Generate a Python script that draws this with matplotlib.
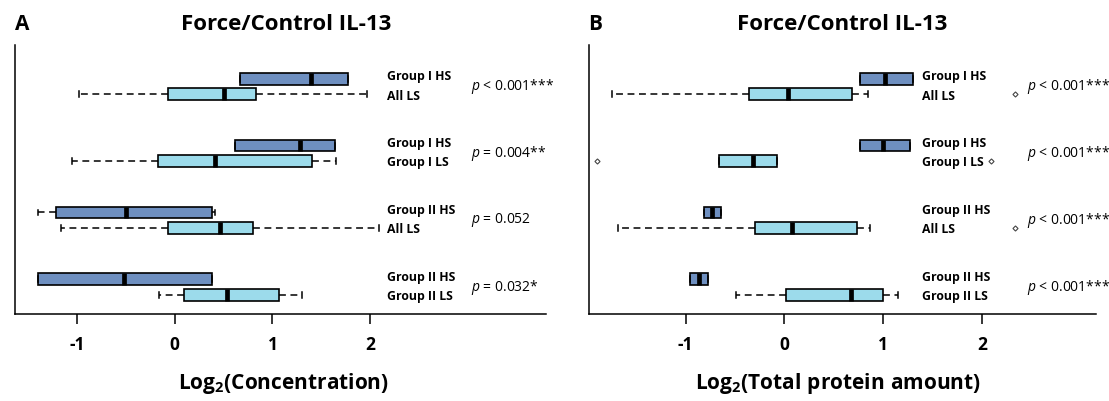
import matplotlib
matplotlib.use("Agg")
import matplotlib.pyplot as plt

plt.rcParams['font.family'] = ['Open Sans', 'DejaVu Sans']
plt.rcParams['mathtext.fontset'] = 'custom'
plt.rcParams['mathtext.rm'] = 'Open Sans'
plt.rcParams['mathtext.it'] = 'Open Sans:italic'
plt.rcParams['mathtext.bf'] = 'Open Sans:bold'

# ---------------- data ----------------
row_labels_hs = ["Group I HS", "Group I HS", "Group II HS", "Group II HS"]
row_labels_ls = ["All LS", "Group I LS", "All LS", "Group II LS"]

# Panel A: Log2(Concentration)  [q1, median, q3, whislo, whishi]
concA_hs_q1 = [0.667, 0.620, -1.209, -1.402]
concA_hs_med = [1.396, 1.283, -0.495, -0.514]
concA_hs_q3 = [1.767, 1.640, 0.383, 0.383]
concA_hs_lo = [0.667, 0.620, -1.402, -1.402]
concA_hs_hi = [1.767, 1.640, 0.412, 0.383]
concA_ls_q1 = [-0.066, -0.175, -0.066, 0.092]
concA_ls_med = [0.507, 0.408, 0.459, 0.540]
concA_ls_q3 = [0.827, 1.403, 0.798, 1.068]
concA_ls_lo = [-0.976, -1.049, -1.162, -0.164]
concA_ls_hi = [1.971, 1.650, 2.084, 1.305]
pvals_A = [r"$\it{p}$ < 0.001***", r"$\it{p}$ = 0.004**", r"$\it{p}$ = 0.052", r"$\it{p}$ = 0.032*"]

# Panel B: Log2(Total protein amount)
protB_hs_q1 = [0.762, 0.762, -0.809, -0.951]
protB_hs_med = [1.014, 0.996, -0.731, -0.859]
protB_hs_q3 = [1.298, 1.266, -0.646, -0.770]
protB_hs_lo = [0.762, 0.762, -0.809, -0.951]
protB_hs_hi = [1.298, 1.266, -0.646, -0.770]
protB_ls_q1 = [-0.362, -0.664, -0.298, 0.014]
protB_ls_med = [0.032, -0.319, 0.078, 0.677]
protB_ls_q3 = [0.681, -0.079, 0.730, 0.996]
protB_ls_lo = [-1.741, -0.664, -1.678, -0.489]
protB_ls_hi = [0.840, -0.079, 0.868, 1.152]
protB_ls_fliers = [[2.326], [-1.894, 2.092], [2.336], []]
pvals_B = [r"$\it{p}$ < 0.001***"] * 4

xticks = [-1, 0, 1, 2]
HS_COLOR = "#6e8fc0"
LS_COLOR = "#9cdbeb"

W, H = 1109, 401
fig = plt.figure(figsize=(W / 100, H / 100), dpi=100)

rows = [4, 3, 2, 1]
off = 0.115
bw = 0.176


def stats(q1, med, q3, lo, hi, fl=None):
    out = []
    for i in range(len(q1)):
        out.append(dict(q1=q1[i], med=med[i], q3=q3[i], whislo=lo[i], whishi=hi[i],
                        fliers=(fl[i] if fl else [])))
    return out


def draw_panel(ax, hs, ls, pvals, xlim, label_x, p_x):
    common = dict(orientation='horizontal', widths=bw, patch_artist=True, showfliers=True,
                  medianprops=dict(color='black', linewidth=3.4, solid_capstyle='butt'),
                  whiskerprops=dict(color='black', linewidth=1.1, linestyle=(0, (4.5, 3))),
                  capprops=dict(color='black', linewidth=1.1),
                  flierprops=dict(marker='D', markersize=2.6, markerfacecolor='white',
                                  markeredgecolor='#444444', markeredgewidth=0.8))
    ax.bxp(hs, positions=[r + off for r in rows],
           boxprops=dict(facecolor=HS_COLOR, edgecolor='black', linewidth=1.2), **common)
    ax.bxp(ls, positions=[r - off for r in rows],
           boxprops=dict(facecolor=LS_COLOR, edgecolor='black', linewidth=1.2), **common)
    ax.set_xlim(*xlim)
    ax.set_ylim(0.592, 4.619)
    ax.set_xticks(xticks)
    ax.set_xticklabels([str(t) for t in xticks], fontweight='bold', fontsize=12.5)
    ax.set_yticks([])
    for s in ['top', 'right']:
        ax.spines[s].set_visible(False)
    for s in ['left', 'bottom']:
        ax.spines[s].set_linewidth(1.1)
    ax.tick_params(axis='x', direction='out', length=7, width=1.1, pad=8.5)
    for i, r in enumerate(rows):
        ax.text(label_x, r + off + 0.03, row_labels_hs[i], fontsize=8.8, fontweight='bold',
                va='center', ha='left', clip_on=False)
        ax.text(label_x, r - off - 0.03, row_labels_ls[i], fontsize=8.8, fontweight='bold',
                va='center', ha='left', clip_on=False)
        ax.text(p_x, r, pvals[i], fontsize=10, va='center', ha='left', clip_on=False)


ax1 = fig.add_axes([15.4 / W, 1 - 314.3 / H, (546.4 - 15.4) / W, (314.3 - 45) / H])
ax2 = fig.add_axes([589.1 / W, 1 - 314.3 / H, (1096 - 589.1) / W, (314.3 - 45) / H])

draw_panel(ax1,
           stats(concA_hs_q1, concA_hs_med, concA_hs_q3, concA_hs_lo, concA_hs_hi),
           stats(concA_ls_q1, concA_ls_med, concA_ls_q3, concA_ls_lo, concA_ls_hi),
           pvals_A, (-1.628, 3.80), 2.175, 3.03)
draw_panel(ax2,
           stats(protB_hs_q1, protB_hs_med, protB_hs_q3, protB_hs_lo, protB_hs_hi),
           stats(protB_ls_q1, protB_ls_med, protB_ls_q3, protB_ls_lo, protB_ls_hi, protB_ls_fliers),
           pvals_B, (-1.975, 3.15), 1.388, 2.45)

# titles and panel letters
fig.text(286 / W, 1 - 30 / H, "Force/Control IL-13", fontsize=16, fontweight='bold',
         ha='center', va='baseline')
fig.text(842.5 / W, 1 - 30 / H, "Force/Control IL-13", fontsize=16, fontweight='bold',
         ha='center', va='baseline')
fig.text(15 / W, 1 - 30 / H, "A", fontsize=15, fontweight='bold', ha='left', va='baseline')
fig.text(588 / W, 1 - 30 / H, "B", fontsize=15, fontweight='bold', ha='left', va='baseline')

# axis labels
fig.text(283 / W, 1 - 383 / H, r"$\mathbf{Log}_{\mathbf{2}}\mathbf{(Concentration)}$",
         fontsize=15, ha='center', va='center')
fig.text(838 / W, 1 - 383 / H, r"$\mathbf{Log}_{\mathbf{2}}\mathbf{(Total\ protein\ amount)}$",
         fontsize=15, ha='center', va='center')

fig.savefig("out.png", dpi=100)
